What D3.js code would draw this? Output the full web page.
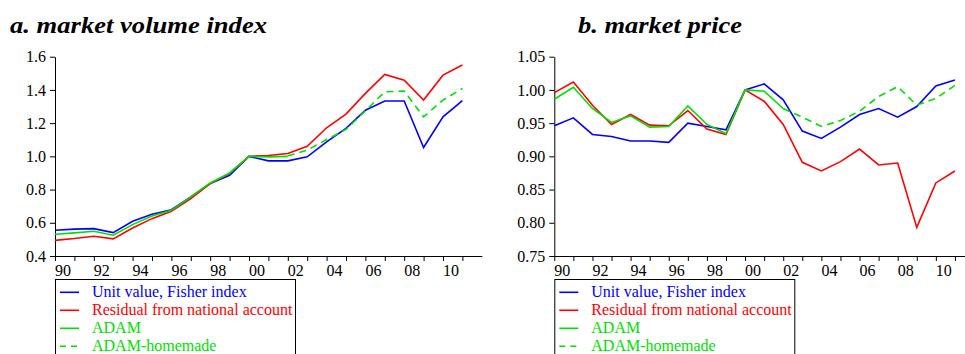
<!DOCTYPE html>
<html><head><meta charset="utf-8">
<script src="https://cdn.jsdelivr.net/npm/d3@7"></script>
<style>body{margin:0;background:#fff}svg{display:block}</style>
</head><body>
<svg id="c" width="965" height="354"></svg>
<script>
const years = d3.range(1990, 2012);
const adamYears = d3.range(1990, 2003);
const homeYears = d3.range(2002, 2012);

// a. market volume index
const volUnit = [0.555,0.562,0.565,0.541,0.609,0.651,0.679,0.756,0.836,0.886,1.0,0.973,0.973,0.997,1.087,1.168,1.278,1.333,1.333,1.053,1.238,1.335];
const volResid = [0.494,0.505,0.519,0.503,0.569,0.625,0.669,0.746,0.836,0.897,1.0,1.005,1.017,1.061,1.172,1.254,1.379,1.493,1.459,1.339,1.489,1.55];
const volAdam = [0.531,0.539,0.549,0.525,0.589,0.641,0.675,0.756,0.84,0.9,1.0,0.997,1.0];
const volHome = [1.003,1.037,1.101,1.162,1.274,1.389,1.393,1.238,1.339,1.409];

// b. market price
const priUnit = [0.946,0.958,0.933,0.930,0.923,0.923,0.921,0.950,0.945,0.940,1.0,1.009,0.985,0.938,0.927,0.944,0.963,0.972,0.959,0.975,1.006,1.015];
const priResid = [0.996,1.012,0.977,0.948,0.963,0.947,0.946,0.969,0.941,0.933,1.0,0.983,0.948,0.891,0.878,0.892,0.911,0.887,0.890,0.793,0.860,0.878];
const priAdam = [0.986,1.004,0.972,0.951,0.961,0.944,0.945,0.976,0.948,0.934,1.0,0.998,0.972];
const priHome = [0.972,0.959,0.945,0.954,0.968,0.990,1.005,0.977,0.987,1.007];

const volTicks = [0.4,0.6,0.8,1.0,1.2,1.4,1.6];
const priTicks = [0.75,0.80,0.85,0.90,0.95,1.00,1.05];
const legendLabels = ["Unit value, Fisher index","Residual from national account","ADAM","ADAM-homemade"];
const colors = ["#0000ff","#ff0000","#00e000","#00e000"];

const FONT = "'Liberation Serif', 'Times New Roman', serif";
const svg = d3.select("#c");

function panel(opt){
  const g = svg.append("g");
  const x = d3.scaleLinear().domain([1990, 2012]).range([opt.x0, opt.x1]);
  const y = d3.scaleLinear().domain(opt.ydom).range([256, 56.7]);
  g.append("text").attr("x", opt.tx).attr("y", 33)
    .attr("textLength", opt.tw).attr("lengthAdjust", "spacingAndGlyphs")
    .style("font-family", FONT).style("font-size", "24px")
    .style("font-weight", "bold").style("font-style", "italic")
    .text(opt.title);
  const xa = g.append("g").attr("transform", "translate(0,256)")
    .call(d3.axisBottom(x).tickValues(d3.range(1990, 2012)).tickSize(5).tickSizeOuter(0).tickPadding(4)
      .tickFormat(d => d % 2 === 0 ? String(d).slice(2) : ""));
  xa.selectAll("text").attr("text-anchor", "start").attr("x", -0.5)
    .style("font-family", FONT).style("font-size", "16px").attr("fill", "#000");
  const ya = g.append("g").attr("transform", `translate(${opt.x0},0)`)
    .call(d3.axisLeft(y).tickValues(opt.yticks).tickSize(5).tickSizeOuter(0).tickPadding(4).tickFormat(d3.format(opt.fmt)));
  ya.selectAll("text").style("font-family", FONT).style("font-size", "16px").attr("fill", "#000");
  g.selectAll(".domain,.tick line").attr("stroke", "#000");

  const line = d3.line().x(d => x(d[0])).y(d => y(d[1]));
  const series = [
    {yrs: years, v: opt.s[0], c: colors[0], dash: null},
    {yrs: years, v: opt.s[1], c: colors[1], dash: null},
    {yrs: adamYears, v: opt.s[2], c: colors[2], dash: null},
    {yrs: homeYears, v: opt.s[3], c: colors[3], dash: "7,5"}
  ];
  series.forEach(s => {
    g.append("path").datum(s.yrs.map((yr, i) => [yr, s.v[i]]))
      .attr("d", line).attr("fill", "none").attr("stroke", s.c)
      .attr("stroke-width", 1.6).attr("stroke-dasharray", s.dash);
  });

  // legend
  const lg = g.append("g");
  lg.append("rect").attr("x", opt.x0 + 0.5).attr("y", 279.5).attr("width", opt.lw).attr("height", 90)
    .attr("fill", "#fff").attr("stroke", "#000").attr("stroke-width", 1);
  legendLabels.forEach((t, i) => {
    const yy = 292.3 + i * 18;
    lg.append("line").attr("x1", opt.x0 + 5).attr("x2", opt.x0 + 24).attr("y1", yy).attr("y2", yy)
      .attr("stroke", colors[i]).attr("stroke-width", 1.6).attr("stroke-dasharray", i === 3 ? "6,5" : null);
    lg.append("text").attr("x", opt.x0 + 37).attr("y", yy + 5)
      .style("font-family", FONT).style("font-size", "16px")
      .attr("fill", colors[i]).text(t);
  });
}

panel({x0: 55, x1: 481.8, ydom: [0.4, 1.6], yticks: volTicks, fmt: ".1f", tx: 10, tw: 257,
  title: "a. market volume index", s: [volUnit, volResid, volAdam, volHome], lw: 240});
panel({x0: 554.3, x1: 974, ydom: [0.75, 1.05], yticks: priTicks, fmt: ".2f", tx: 578, tw: 164,
  title: "b. market price", s: [priUnit, priResid, priAdam, priHome], lw: 240});
</script>
</body></html>
